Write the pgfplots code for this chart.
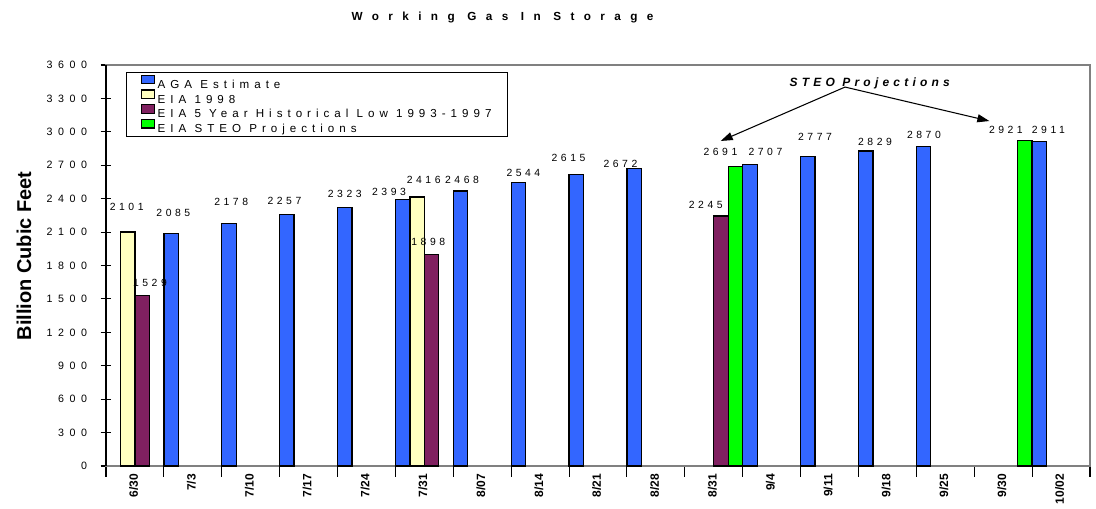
\documentclass[border=0pt]{standalone}
\usepackage{fontspec}
\setmainfont{Liberation Sans}
\newfontfamily\tickfont[LetterSpace=52]{Liberation Sans}
\newfontfamily\datafont[LetterSpace=34]{Liberation Sans}
\newfontfamily\legfont[LetterSpace=43]{Liberation Sans}
\newfontfamily\titlefont[LetterSpace=80]{Liberation Sans}
\newfontfamily\steofont[LetterSpace=35]{Liberation Sans}
\usepackage{pgfplots}
\usepackage{pgfplotstable}
\pgfplotsset{compat=1.18}
\usetikzlibrary{arrows.meta}

\definecolor{agablue}{RGB}{51,102,255}
\definecolor{eiayellow}{RGB}{255,255,192}
\definecolor{lowmaroon}{RGB}{128,32,96}
\definecolor{steogreen}{RGB}{0,255,0}
\definecolor{framegray}{RGB}{128,128,128}

% x = category index (0 = 6/30 ... 16 = 10/02), dx/dy = label offsets (px)
\pgfplotstableread{
x y dx dy
1 2085 2.2 16
2 2178 2.2 16.7
3 2257 -2.4 9
4 2323 0 9.3
5 2393 -13.6 3
6 2468 1.5 7
7 2544 5 5
8 2615 -7.8 12
9 2672 -13.7 0
11 2707 15.5 8
12 2777 7.2 15.7
13 2829 9.3 5
14 2870 0.4 7.3
16 2911 9 7.7
}\agadata

\pgfplotstableread{
x y dx dy
0 2101 -1 21
5 2416 6.6 13
}\eiadata

\pgfplotstableread{
x y dx dy
0 1529 7.8 8.3
5 1898 -3.3 8.3
10 2245 -15.2 6.7
}\lowdata

\pgfplotstableread{
x y dx dy
10 2691 -15 10
15 2921 -19 6.7
}\steodata

\begin{document}
\begin{tikzpicture}
\useasboundingbox (-79.5pt,-31.5pt) rectangle (742.5pt,349.5pt);
\begin{axis}[
  at={(0pt,0pt)}, anchor=south west,
  scale only axis,
  width=738pt, height=300.75pt,
  xmin=-0.5, xmax=16.5,
  ymin=0, ymax=3600,
  ytick={0,300,...,3600},
  scaled y ticks=false,
  /pgf/number format/1000 sep={},
  /pgf/number format/assume math mode=true,
  xtick={-0.5,0.5,...,16.5},
  xticklabels={},
  extra x ticks={0,1,...,16},
  extra x tick labels={6/30,7/3,7/10,7/17,7/24,7/31,8/07,8/14,8/21,8/28,8/31,9/4,9/11,9/18,9/25,9/30,10/02},
  extra x tick style={major tick length=0pt},
  xticklabel style={yshift=-6pt, xshift=-1pt, rotate=90, anchor=east, inner sep=0pt,
    font=\bfseries\fontsize{9}{10}\selectfont},
  yticklabel style={anchor=east, inner sep=0pt, xshift=-10pt,
    font=\tickfont\fontsize{8}{9}\selectfont},
  tick pos=left,
  tick align=center,
  major tick length=8pt,
  tick style={black, line width=0.8pt},
  axis line style={draw=framegray, line width=1.5pt},
  ylabel={Billion Cubic Feet},
  every axis y label/.style={at={(axis description cs:-0.0833,0.524)}, rotate=90, anchor=center,
    font=\bfseries\fontsize{15}{18}\selectfont},
  bar width=0.25,
  ybar,
  clip=false,
  visualization depends on={\thisrow{dx} \as \dx},
  visualization depends on={\thisrow{dy} \as \dy},
  nodes near coords,
  every node near coord/.append style={font=\datafont\fontsize{7.8}{9}\selectfont,
    inner sep=0pt, anchor=south, black, xshift=\dx*0.75pt, yshift=\dy*0.75pt},
  legend cell align=left,
  legend image code/.code={\draw[#1, draw=black, line width=0.9pt] (0pt,-0.3pt) rectangle (9.5pt,5.9pt);},
  legend style={at={(axis description cs:0.0203,0.982)}, anchor=north west,
    draw=black, line width=0.6pt, fill=white,
    inner xsep=11pt, inner ysep=1.5pt,
    font=\legfont\fontsize{8.7}{10}\selectfont,
    nodes={inner sep=0.6pt, text height=8.1pt, text depth=0.25pt},
    column sep=1.5pt},
]
\addplot[ybar, bar shift=-0.375, fill=agablue, draw=black, line width=1pt]
  table[x=x, y=y] {\agadata};
\addlegendentry{AGA Estimate}
\addplot[ybar, bar shift=-0.125, fill=eiayellow, draw=black, line width=1pt]
  table[x=x, y=y] {\eiadata};
\addlegendentry{EIA 1998}
\addplot[ybar, bar shift=0.125, fill=lowmaroon, draw=black, line width=1pt]
  table[x=x, y=y] {\lowdata};
\addlegendentry{EIA 5 Year Historical Low 1993-1997}
\addplot[ybar, bar shift=0.375, fill=steogreen, draw=black, line width=1pt]
  table[x=x, y=y] {\steodata};
\addlegendentry{EIA STEO Projections}

\draw[black, line width=1pt] (rel axis cs:0,0) -- (rel axis cs:0,1);
\draw[-{Triangle[length=9pt,width=6pt]}, line width=0.8pt] (axis cs:12.268,3402) -- (axis cs:10.120,2918);
\draw[-{Triangle[length=9pt,width=6pt]}, line width=0.8pt] (axis cs:12.268,3402) -- (axis cs:14.761,3097);
\node[font=\steofont\bfseries\itshape\fontsize{9}{11}\selectfont, anchor=base]
  at (axis cs:12.694,3405) {STEO Projections};
\end{axis}
\node[font=\titlefont\bfseries\fontsize{8.8}{10}\selectfont, anchor=base]
  at (297.4pt,333.75pt) {Working Gas In Storage};
\end{tikzpicture}
\end{document}
